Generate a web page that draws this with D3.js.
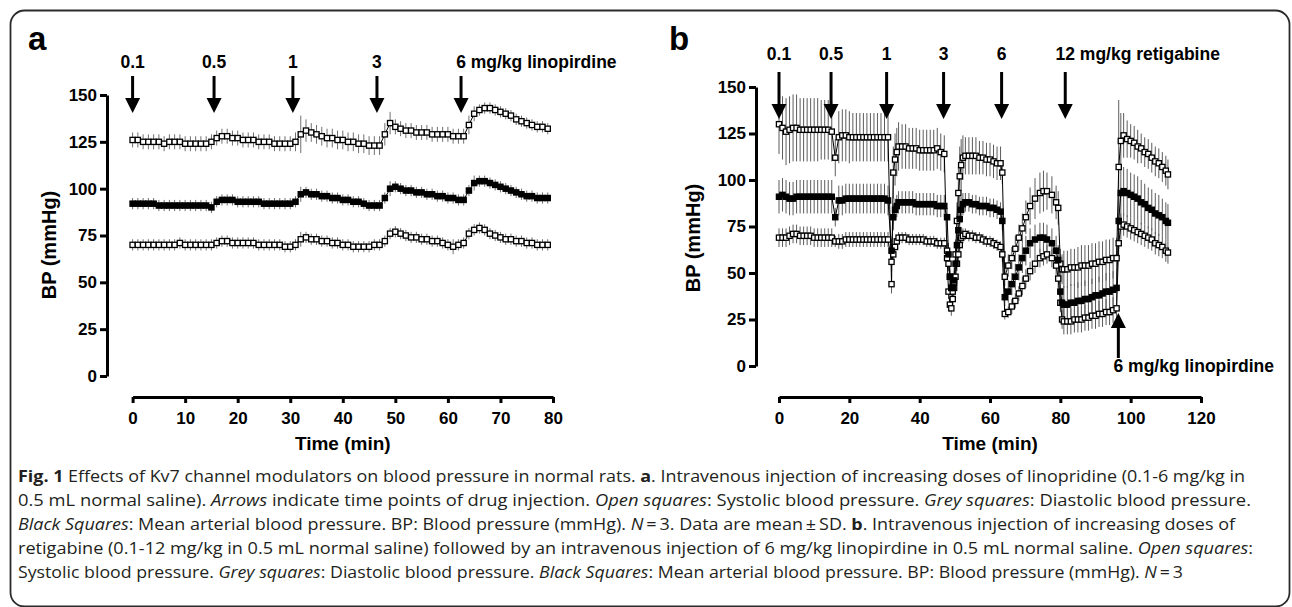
<!DOCTYPE html>
<html>
<head>
<meta charset="utf-8">
<script src="https://cdn.jsdelivr.net/npm/d3@7"></script>
<style>
  body { margin: 0; background: #fff; }
  svg { display: block; }
  .lab { font-family: "Liberation Sans", Arial, sans-serif; font-weight: bold; fill: #000; }
  .cap { font-family: "Open Sans", "Noto Sans", sans-serif; font-size: 16px; fill: #231f20; }
</style>
</head>
<body>
<svg id="fig" width="1292" height="607"></svg>
<script>
// ---- data ----
const yTicks = [0, 25, 50, 75, 100, 125, 150];

// panel a : linopirdine, one point per minute
const aTime = d3.range(0, 80);
const aXTicks = [0, 10, 20, 30, 40, 50, 60, 70, 80];
const aDoses = [0, 15.5, 30.5, 46.5, 62.5];
const aDoseLabels = ["0.1", "0.5", "1", "3", "6 mg/kg linopirdine"];

const aSys = [126,126,125,125,125,125,124,125,125,125,124,124,124,124,124,125,
  127,128,128,127,127,126,126,126,125,125,125,124,124,124,124,
  125,129,131,130,129,128,127,127,126,126,125,125,124,124,123,123,
  123,129,135,133,132,131,131,130,130,130,129,129,129,129,128,128,
  128,134,140,142,143,143,142,141,140,139,137,136,135,134,133,133,132];
const aSysSD = [4,4,4,4,4,4,4,4,4,4,4,4,4,4,4,4,
  4,4,4,4,4,4,4,4,4,4,4,4,4,4,4,
  5,10,6,5,5,5,5,5,5,5,5,5,5,5,5,5,
  5,6,6,4,4,4,4,4,4,4,4,4,4,4,4,4,
  4,5,4,3,3,3,3,3,3,3,3,3,3,3,3,3,3];
const aMean = [92,92,92,92,92,91,91,91,91,91,91,91,91,91,91,90,
  93,94,94,94,93,93,93,93,93,92,92,92,92,92,92,
  93,97,98,97,97,96,96,95,95,94,94,93,93,92,91,91,
  91,95,100,101,100,99,99,98,98,97,97,96,96,95,95,94,
  94,99,103,104,104,103,102,101,100,99,98,97,96,96,95,95,95];
const aMeanSD = [3,3,3,3,3,3,3,3,3,3,3,3,3,3,3,3,
  3,3,3,3,3,3,3,3,3,3,3,3,3,3,3,
  3,4,3,3,3,3,3,3,3,3,3,3,3,3,3,3,
  3,3,4,3,3,3,3,3,3,3,3,3,3,3,3,3,
  3,3,4,3,3,3,3,3,3,3,3,3,3,3,3,3,3];
const aDia = [70,70,70,70,70,70,70,70,70,71,70,70,70,70,70,70,
  71,72,72,71,71,71,71,71,70,70,70,70,70,69,69,
  70,73,74,73,73,72,72,71,71,70,70,69,69,69,69,70,
  70,72,76,77,76,75,74,74,73,73,72,72,71,70,69,70,
  71,76,78,79,78,76,75,74,73,73,72,72,71,71,70,70,70];
const aDiaSD = [3,3,3,3,3,3,3,3,3,3,3,3,3,3,3,3,
  3,3,3,3,3,3,3,3,3,3,3,3,3,3,3,
  3,4,3,3,3,3,3,3,3,3,3,3,3,3,3,3,
  3,3,3,3,3,3,3,3,3,3,3,3,3,3,4,3,
  3,3,3,3,3,3,3,3,3,3,3,3,3,3,3,3,3];

// panel b : retigabine then linopirdine, denser sampling after each bolus
const bXTicks = [0, 20, 40, 60, 80, 100, 120];
const bDoses = [0, 14.8, 30.6, 46.8, 63.3, 81.4];
const bDoseLabels = ["0.1", "0.5", "1", "3", "6", "12 mg/kg retigabine"];
const bLinoTime = 96.5;
const bLinoLabel = "6 mg/kg linopirdine";

const bTime = [0,1,2,3,4,5,6,7,8,9,10,11,12,13,14,15,
  16,
  17,18,19,20,21,22,23,24,25,26,27,28,29,30,31,
  32,32.5,33,33.5,34,
  35,36,37,38,39,40,41,42,43,44,45,46,47,
  47.8,48.2,48.6,49,49.4,49.8,50.2,50.6,51,51.4,51.8,52.3,
  53,54,55,56,57,58,59,60,61,62,63,
  63.5,64.2,65.2,66.2,67.2,68.2,69.2,70.2,71.4,72.8,74.2,75.2,76.2,77.6,78.8,79.4,80,80.5,
  81,82,83,84,85,86,87,88,89,90,91,92,93,94,95,96,
  96.6,97.2,98,99,100,101,102,103,104,105,106,107,108,109,110,110.6];

const bSys = [130,128,126,127,128,128,127,127,127,127,127,127,127,127,127,126,
  112,
  123,124,124,123,123,123,123,123,123,123,123,123,123,123,123,
  44,104,111,115,118,
  118,118,117,117,117,116,116,116,116,116,117,115,114,
  58,40,33,31,36,45,60,78,93,102,108,112,
  113,113,113,113,112,112,111,111,110,109,109,
  104,48,54,58,63,69,74,80,86,90,93,94,94,92,88,85,55,52,
  52,52,53,53,53,54,54,54,55,55,56,56,57,57,58,58,
  107,121,124,122,121,120,118,117,115,114,112,110,109,107,105,103];
const bSysSD = [16,17,18,18,18,18,17,17,17,17,17,17,16,16,16,16,
  10,
  14,14,14,14,13,13,13,13,13,13,13,13,13,13,13,
  5,14,14,13,13,
  12,12,11,11,11,11,11,11,11,11,11,10,10,
  4,4,4,4,5,6,8,10,14,16,14,12,
  10,10,10,10,9,9,9,9,9,9,9,
  6,5,6,6,7,7,8,9,10,11,11,11,10,10,9,9,8,8,
  10,10,10,10,11,11,11,11,11,11,11,11,11,11,11,11,
  36,15,12,10,9,9,9,8,8,8,8,8,8,8,8,8];

const bMean = [91,92,91,90,90,91,91,91,91,91,91,91,91,91,91,91,
  80,
  89,89,90,90,90,90,90,90,90,90,90,90,90,90,89,
  62,80,84,86,88,
  88,88,88,88,87,87,87,87,87,87,86,86,86,
  80,60,48,42,42,46,55,65,73,79,84,87,
  88,88,87,87,86,86,86,85,85,84,83,
  78,37,40,44,48,53,58,62,66,68,69,69,68,66,62,57,40,34,
  33,33,34,34,35,35,36,36,37,38,38,39,40,40,41,42,
  78,93,94,93,92,91,90,88,87,85,84,82,81,80,78,77];
const bMeanSD = [9,9,9,9,9,9,9,9,9,9,9,9,9,9,9,9,
  5,
  8,8,8,8,8,8,8,8,8,8,8,8,8,8,8,
  6,7,6,6,6,
  6,6,6,6,6,6,6,6,6,6,6,6,6,
  5,6,6,6,6,7,8,8,8,8,7,6,
  5,5,5,5,5,5,5,5,5,5,5,
  5,5,6,6,7,7,8,8,8,8,8,8,8,8,8,8,7,8,
  10,10,10,10,10,10,10,10,10,10,10,10,10,10,10,10,
  15,14,13,13,12,12,12,12,11,11,11,11,11,10,10,10];

const bDia = [69,69,69,70,71,71,70,70,70,70,69,69,69,69,69,69,
  67,
  67,67,68,68,68,68,68,68,68,68,68,68,68,68,68,
  56,60,64,67,69,
  69,69,68,68,68,68,68,67,67,67,66,66,66,
  62,55,48,42,40,42,48,55,60,65,69,70,
  71,70,70,69,69,68,67,67,66,65,64,
  60,28,29,32,35,39,43,47,51,55,58,59,60,58,54,47,34,25,
  24,24,24,25,25,25,26,26,27,27,28,28,29,29,30,31,
  66,75,76,75,74,73,72,71,70,69,68,66,65,64,62,61];
const bDiaSD = [5,5,5,5,5,5,5,5,5,5,5,5,5,5,5,5,
  3,
  4,4,4,4,4,4,4,4,4,4,4,4,4,4,4,
  5,4,4,3,3,
  3,3,3,3,3,3,3,3,3,3,3,3,3,
  4,4,4,4,4,4,4,4,4,4,4,4,
  3,3,3,3,3,3,3,3,3,3,3,
  4,3,3,4,4,4,5,5,5,5,5,5,5,5,5,5,5,5,
  7,7,7,7,7,7,7,7,7,7,7,7,7,7,7,7,
  8,7,6,6,6,6,6,6,6,6,6,6,6,6,6,6];

// caption lines, split into styled runs
const caption = [
  [["Fig. 1", "b"], [" Effects of Kv7 channel modulators on blood pressure in normal rats. ", ""], ["a", "b"], [". Intravenous injection of increasing doses of linopridine (0.1-6 mg/kg in", ""]],
  [["0.5 mL normal saline). ", ""], ["Arrows", "i"], [" indicate time points of drug injection. ", ""], ["Open squares", "i"], [": Systolic blood pressure. ", ""], ["Grey squares", "i"], [": Diastolic blood pressure.", ""]],
  [["Black Squares", "i"], [": Mean arterial blood pressure. BP: Blood pressure (mmHg). ", ""], ["N", "i"], ["\u2009=\u20093. Data are mean\u2009\u00b1\u2009SD. ", ""], ["b", "b"], [". Intravenous injection of increasing doses of", ""]],
  [["retigabine (0.1-12 mg/kg in 0.5 mL normal saline) followed by an intravenous injection of 6 mg/kg linopirdine in 0.5 mL normal saline. ", ""], ["Open squares", "i"], [":", ""]],
  [["Systolic blood pressure. ", ""], ["Grey squares", "i"], [": Diastolic blood pressure. ", ""], ["Black Squares", "i"], [": Mean arterial blood pressure. BP: Blood pressure (mmHg). ", ""], ["N", "i"], ["\u2009=\u20093", ""]]
];
const captionWidths = [1227, 1233, 1217, 1235, 1165];

// ---- drawing ----
const svg = d3.select("#fig");

svg.append("rect")
  .attr("x", 10.5).attr("y", 10.5)
  .attr("width", 1279).attr("height", 596)
  .attr("rx", 14)
  .attr("fill", "none").attr("stroke", "#2b2b2b").attr("stroke-width", 1.8);

function labelWidth(str, size) {
  const t = svg.append("text").attr("class", "lab").attr("font-size", size).text(str);
  const w = t.node().getComputedTextLength();
  t.remove();
  return w;
}

function downArrow(g, x0, yTop, yTip) {
  g.append("line")
    .attr("x1", x0).attr("x2", x0)
    .attr("y1", yTop).attr("y2", yTip - 10)
    .attr("stroke", "#000").attr("stroke-width", 3);
  g.append("path")
    .attr("d", `M${x0 - 7.5},${yTip - 15}L${x0 + 7.5},${yTip - 15}L${x0},${yTip}Z`)
    .attr("fill", "#000");
}

function upArrow(g, x0, yTip, yBot) {
  g.append("line")
    .attr("x1", x0).attr("x2", x0)
    .attr("y1", yTip + 10).attr("y2", yBot)
    .attr("stroke", "#000").attr("stroke-width", 3);
  g.append("path")
    .attr("d", `M${x0 - 7.5},${yTip + 15}L${x0 + 7.5},${yTip + 15}L${x0},${yTip}Z`)
    .attr("fill", "#000");
}

function drawPanel(cfg) {
  const g = svg.append("g");
  const x = d3.scaleLinear().domain(cfg.xDomain).range(cfg.xRange);
  const y = d3.scaleLinear().domain([0, 150]).range(cfg.yRange);

  // panel letter
  g.append("text").attr("class", "lab")
    .attr("x", cfg.letterX).attr("y", 50)
    .attr("font-size", 33)
    .text(cfg.letter);

  // y axis
  const ya = g.append("g")
    .attr("transform", `translate(${cfg.yAxisX},0)`)
    .call(d3.axisLeft(y).tickValues(yTicks).tickSize(7).tickSizeOuter(0).tickPadding(3));
  ya.attr("font-family", "Liberation Sans, Arial, sans-serif").attr("font-size", 17).attr("font-weight", "bold");
  ya.select(".domain").attr("stroke-width", 3);
  ya.selectAll(".tick line").attr("stroke-width", 3);

  // x axis
  const xa = g.append("g")
    .attr("transform", `translate(0,${cfg.xAxisY})`)
    .call(d3.axisBottom(x).tickValues(cfg.xTicks).tickSize(6).tickSizeOuter(0).tickPadding(9));
  xa.attr("font-family", "Liberation Sans, Arial, sans-serif").attr("font-size", 17).attr("font-weight", "bold");
  xa.select(".domain").attr("stroke-width", 3);
  xa.selectAll(".tick line").attr("stroke-width", 3);

  // axis titles
  g.append("text").attr("class", "lab")
    .attr("x", (cfg.xRange[0] + cfg.xRange[1]) / 2).attr("y", 450)
    .attr("text-anchor", "middle").attr("font-size", 19)
    .text("Time (min)");
  g.append("text").attr("class", "lab")
    .attr("transform", `translate(${cfg.yTitleX},${cfg.yTitleY}) rotate(-90)`)
    .attr("text-anchor", "middle").attr("font-size", 20)
    .text("BP (mmHg)");

  // series
  const series = cfg.series.map(s => ({
    fill: s.fill,
    pts: cfg.time.map((t, i) => ({ t: t, v: s.values[i], sd: s.sd[i] }))
  }));

  const line = d3.line().x(d => x(d.t)).y(d => y(d.v));

  series.forEach(s => {
    g.append("g").selectAll("line").data(s.pts).join("line")
      .attr("x1", d => x(d.t)).attr("x2", d => x(d.t))
      .attr("y1", d => y(d.v - d.sd)).attr("y2", d => y(d.v + d.sd))
      .attr("stroke", cfg.barColor).attr("stroke-width", 1);
  });
  series.forEach(s => {
    g.append("path").datum(s.pts)
      .attr("d", line)
      .attr("fill", "none").attr("stroke", "#000").attr("stroke-width", 1);
  });
  series.forEach(s => {
    g.append("g").selectAll("rect").data(s.pts).join("rect")
      .attr("x", d => x(d.t) - 2.6).attr("y", d => y(d.v) - 2.6)
      .attr("width", 5.2).attr("height", 5.2)
      .attr("fill", s.fill).attr("stroke", "#000").attr("stroke-width", 1.3);
  });

  // dose arrows
  cfg.doses.forEach((t, i) => {
    const xp = x(t);
    downArrow(g, xp, cfg.arrowTop, cfg.arrowTip);
    const str = cfg.doseLabels[i];
    const first = str.split(" ")[0];
    const long = str.indexOf(" ") > 0;
    g.append("text").attr("class", "lab")
      .attr("font-size", 17.5)
      .attr("x", long ? xp - labelWidth(first, 17.5) / 2 : xp)
      .attr("y", cfg.doseLabelY)
      .attr("text-anchor", long ? "start" : "middle")
      .text(str);
  });

  return { g: g, x: x, y: y };
}

drawPanel({
  letter: "a", letterX: 28,
  xDomain: [0, 80], xRange: [132.6, 553], xTicks: aXTicks, xAxisY: 397,
  yRange: [376, 95], yAxisX: 107,
  yTitleX: 56, yTitleY: 245,
  time: aTime, barColor: "#707070",
  series: [
    { values: aSys, sd: aSysSD, fill: "#fff" },
    { values: aDia, sd: aDiaSD, fill: "#fff" },
    { values: aMean, sd: aMeanSD, fill: "#000" }
  ],
  doses: aDoses, doseLabels: aDoseLabels,
  doseLabelY: 68, arrowTop: 76, arrowTip: 113
});

const pb = drawPanel({
  letter: "b", letterX: 669,
  xDomain: [0, 120], xRange: [779, 1201], xTicks: bXTicks, xAxisY: 397,
  yRange: [366, 87], yAxisX: 756,
  yTitleX: 700, yTitleY: 238,
  time: bTime, barColor: "#5c5c5c",
  series: [
    { values: bSys, sd: bSysSD, fill: "#fff" },
    { values: bDia, sd: bDiaSD, fill: "#fff" },
    { values: bMean, sd: bMeanSD, fill: "#000" }
  ],
  doses: bDoses, doseLabels: bDoseLabels,
  doseLabelY: 60, arrowTop: 72, arrowTip: 119
});

// linopirdine bolus in panel b (arrow from below)
const lx = pb.x(bLinoTime);
upArrow(pb.g, lx, 313, 358);
pb.g.append("text").attr("class", "lab")
  .attr("font-size", 17.5)
  .attr("x", lx - labelWidth("6", 17.5) / 2).attr("y", 372)
  .text(bLinoLabel);

// caption
const capG = svg.append("g");
caption.forEach((runs, i) => {
  const t = capG.append("text").attr("class", "cap")
    .attr("x", 18).attr("y", 482 + i * 24)
    .attr("textLength", captionWidths[i]).attr("lengthAdjust", "spacingAndGlyphs");
  runs.forEach(r => {
    t.append("tspan")
      .attr("font-weight", r[1] === "b" ? "bold" : null)
      .attr("font-style", r[1] === "i" ? "italic" : null)
      .text(r[0]);
  });
});
</script>
</body>
</html>
